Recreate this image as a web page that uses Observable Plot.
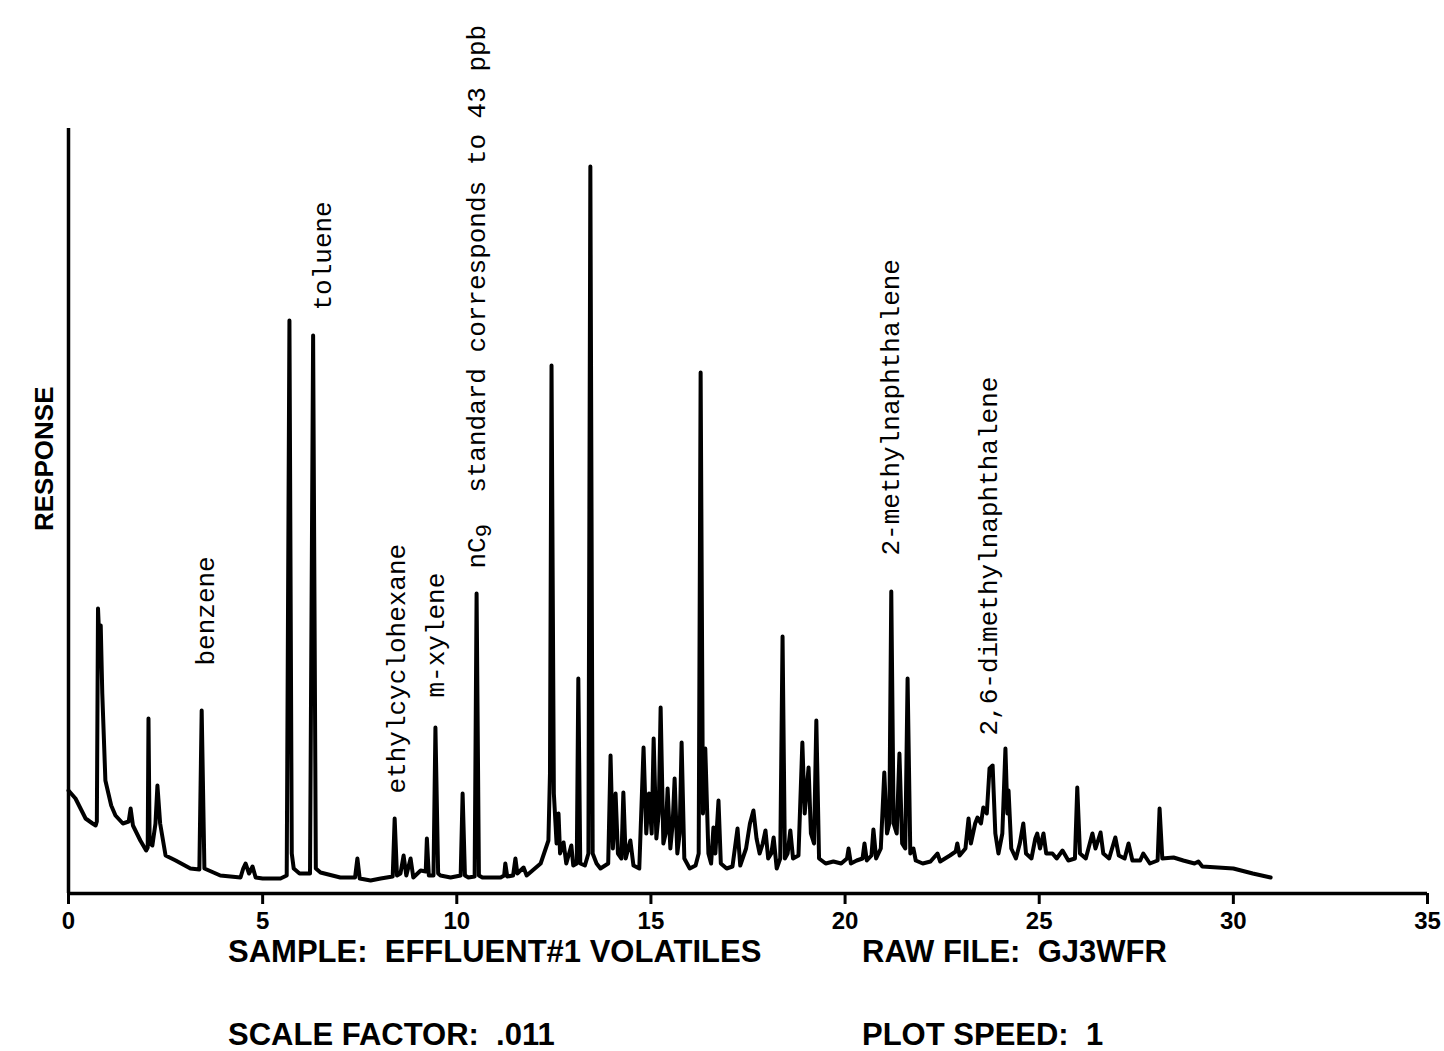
<!DOCTYPE html>
<html><head><meta charset="utf-8">
<script src="https://cdn.jsdelivr.net/npm/d3@7"></script>
<script src="https://cdn.jsdelivr.net/npm/@observablehq/plot@0.6"></script>
<style>
body{margin:0;background:#fff;}
#wrap{position:relative;width:1444px;height:1051px;overflow:hidden;background:#fff;}
#chart{position:absolute;left:0;top:0;}
.cap{position:absolute;font-family:"Liberation Sans",Arial,sans-serif;font-weight:bold;font-size:31px;line-height:26px;white-space:pre;color:#000;}
</style></head><body>
<div id="wrap"><div id="chart"></div>
<div class="cap" style="left:228px;top:939px">SAMPLE:  EFFLUENT#1 VOLATILES</div>
<div class="cap" style="left:862px;top:939px">RAW FILE:  GJ3WFR</div>
<div class="cap" style="left:228px;top:1022px">SCALE FACTOR:  .011</div>
<div class="cap" style="left:862px;top:1022px">PLOT SPEED:  1</div>
</div>
<script>
// x ticks (retention time, minutes)
const xTicks = [0, 5, 10, 15, 20, 25, 30, 35];
const xDomain = [0, 35];
const yDomain = [0, 765];

// chromatogram trace: [time, response]
const signal = [[0,103],[0.18,95],[0.44,75],[0.62,70],[0.70,68],[0.73,72],[0.76,285],[0.80,248],[0.83,268],[0.87,200],[0.95,113],[1.10,88],[1.21,78],[1.40,70],[1.55,72],[1.60,85],[1.66,68],[1.85,53],[2.00,43],[2.04,46],[2.06,175],[2.09,50],[2.16,48],[2.24,70],[2.29,108],[2.36,70],[2.50,38],[2.76,33],[3.14,25],[3.37,24],[3.43,183],[3.50,25],[3.91,18],[4.43,16],[4.50,25],[4.56,30],[4.65,20],[4.74,27],[4.82,16],[5.00,15],[5.46,15],[5.62,18],[5.69,573],[5.75,40],[5.80,25],[5.95,20],[6.22,20],[6.30,558],[6.37,25],[6.49,21],[7.00,16],[7.38,16],[7.44,35],[7.50,15],[7.78,13],[8.04,15],[8.35,17],[8.40,75],[8.46,18],[8.55,20],[8.63,38],[8.70,18],[8.81,35],[8.88,16],[9.07,23],[9.20,22],[9.23,55],[9.28,18],[9.40,18],[9.45,166],[9.52,20],[9.58,18],[9.84,16],[10.10,18],[10.15,100],[10.21,18],[10.30,16],[10.46,17],[10.51,300],[10.57,18],[10.66,16],[11.13,16],[11.22,18],[11.25,30],[11.30,17],[11.45,18],[11.51,35],[11.56,20],[11.72,26],[11.80,18],[12.16,30],[12.36,53],[12.40,120],[12.44,528],[12.50,100],[12.57,50],[12.62,80],[12.66,40],[12.75,51],[12.82,30],[12.95,48],[13.00,28],[13.09,30],[13.13,215],[13.18,30],[13.30,28],[13.39,40],[13.44,727],[13.50,40],[13.60,30],[13.70,25],[13.90,30],[13.96,138],[14.02,45],[14.09,100],[14.15,40],[14.24,35],[14.29,101],[14.35,35],[14.47,53],[14.55,28],[14.70,25],[14.81,146],[14.88,60],[14.95,100],[15.02,60],[15.07,155],[15.14,55],[15.20,80],[15.25,186],[15.32,50],[15.38,60],[15.43,105],[15.50,45],[15.56,70],[15.61,115],[15.68,40],[15.74,60],[15.79,151],[15.86,35],[16.00,25],[16.15,28],[16.23,40],[16.28,521],[16.34,80],[16.40,145],[16.48,40],[16.55,30],[16.61,66],[16.66,40],[16.74,93],[16.80,30],[16.95,25],[17.10,27],[17.23,65],[17.30,28],[17.45,45],[17.55,70],[17.64,83],[17.72,55],[17.80,40],[17.88,50],[17.95,63],[18.02,35],[18.10,40],[18.16,56],[18.24,25],[18.33,35],[18.39,257],[18.45,35],[18.52,40],[18.59,63],[18.66,35],[18.80,38],[18.90,151],[18.96,80],[19.06,126],[19.12,60],[19.20,50],[19.26,173],[19.33,35],[19.50,30],[19.70,32],[19.90,30],[20.05,35],[20.09,45],[20.15,30],[20.30,33],[20.45,35],[20.50,50],[20.56,33],[20.68,38],[20.73,64],[20.80,35],[20.92,45],[21.01,121],[21.08,60],[21.14,70],[21.19,302],[21.25,70],[21.33,60],[21.40,140],[21.47,50],[21.55,45],[21.61,215],[21.68,40],[21.76,45],[21.82,33],[22.00,30],[22.20,32],[22.38,40],[22.45,32],[22.70,38],[22.85,42],[22.89,50],[22.95,38],[23.10,45],[23.18,75],[23.24,50],[23.35,70],[23.41,76],[23.50,70],[23.56,86],[23.65,80],[23.72,125],[23.80,128],[23.87,60],[23.95,40],[24.05,60],[24.13,145],[24.18,80],[24.21,103],[24.28,45],[24.40,35],[24.50,50],[24.59,70],[24.66,40],[24.80,35],[24.90,55],[24.95,60],[25.02,45],[25.11,60],[25.18,40],[25.34,40],[25.45,35],[25.60,43],[25.75,33],[25.92,35],[25.98,106],[26.05,40],[26.20,35],[26.37,60],[26.45,45],[26.58,61],[26.65,40],[26.80,35],[26.96,56],[27.05,38],[27.20,35],[27.30,50],[27.40,33],[27.60,33],[27.68,40],[27.85,30],[28.05,33],[28.10,85],[28.17,35],[28.46,36],[28.71,33],[29.00,30],[29.10,32],[29.20,27],[30.00,25],[30.50,20],[30.96,16]];

// peak annotations
const labelNames = ["benzene", "toluene", "ethylcyclohexane", "m-xylene", "nC9  standard corresponds to 43 ppb", "2-methylnaphthalene", "2,6-dimethylnaphthalene"];
const labelTimes = [3.53, 6.54, 8.45, 9.45, 10.51, 21.17, 23.69];
const labelResponses = [228, 583, 100, 196, 325, 338, 158];

const trace = signal.map(([t, v]) => ({t, v}));
const labels = labelNames.map((s, i) => ({s, t: labelTimes[i], v: labelResponses[i]}));

const chart = Plot.plot({
  width: 1444, height: 936,
  marginLeft: 68, marginRight: 17, marginTop: 128, marginBottom: 43,
  x: {domain: xDomain},
  y: {domain: yDomain, axis: null},
  style: {background: "#fff", color: "#000", overflow: "visible"},
  marks: [
    Plot.axisX({ticks: xTicks, tickSize: 11, tickPadding: 7, tickFormat: d => String(d), fontSize: 24, fontWeight: "bold", fontFamily: "Liberation Sans, Arial, sans-serif", strokeWidth: 3, label: null}),
    Plot.ruleY([0], {strokeWidth: 3.5}),
    Plot.ruleX([0], {y1: yDomain[0], y2: yDomain[1], strokeWidth: 3.5}),
    Plot.line(trace, {x: "t", y: "v", stroke: "#000", strokeWidth: 4, strokeLinejoin: "round", strokeLinecap: "round"}),
    Plot.text(labels, {x: "t", y: "v", text: "s", rotate: -90, textAnchor: "start", lineAnchor: "middle", fontSize: 26, fontFamily: "Liberation Mono, DejaVu Sans Mono, monospace", fill: "#000"}),
    Plot.text(["RESPONSE"], {frameAnchor: "left", dx: -24, dy: 20, rotate: -90, fontSize: 26, fontWeight: "bold", fontFamily: "Liberation Sans, Arial, sans-serif", fill: "#000"})
  ]
});
// subscript the 9 in nC9
chart.querySelectorAll("text").forEach(el => {
  const txt = el.textContent;
  if (txt.startsWith("nC9")) {
    const ns = "http://www.w3.org/2000/svg";
    while (el.firstChild) el.removeChild(el.firstChild);
    const a = document.createElementNS(ns, "tspan"); a.textContent = "nC";
    const b = document.createElementNS(ns, "tspan"); b.textContent = "9"; b.setAttribute("dy", "6"); b.setAttribute("font-size", "22");
    const c = document.createElementNS(ns, "tspan"); c.textContent = txt.slice(3); c.setAttribute("dy", "-6");
    el.append(a, b, c);
  }
});
document.getElementById("chart").append(chart);
</script>
</body></html>
